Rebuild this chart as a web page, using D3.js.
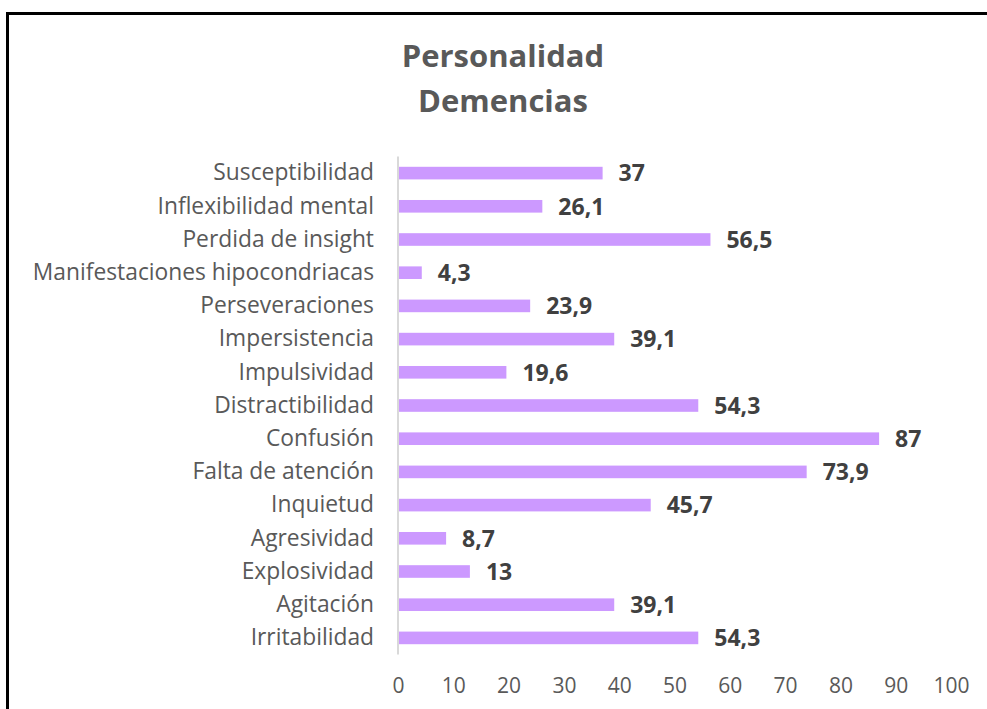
<!DOCTYPE html>
<html lang="es">
<head>
<meta charset="UTF-8">
<title>Personalidad Demencias</title>
<style>
    body { margin: 0; background: #fff; }
    #SVG { display: block; }
</style>
</head>
<body>
<svg id="SVG"></svg>
<script src="https://d3js.org/d3.v7.min.js"></script>
<script>
    // categorias de arriba hacia abajo
    var categories = ["Susceptibilidad", "Inflexibilidad mental", "Perdida de insight",
        "Manifestaciones hipocondriacas", "Perseveraciones", "Impersistencia", "Impulsividad",
        "Distractibilidad", "Confusión", "Falta de atención", "Inquietud", "Agresividad",
        "Explosividad", "Agitación", "Irritabilidad"];
    var values = [37, 26.1, 56.5, 4.3, 23.9, 39.1, 19.6, 54.3, 87, 73.9, 45.7, 8.7, 13, 39.1, 54.3];
    var valueLabels = ["37", "26,1", "56,5", "4,3", "23,9", "39,1", "19,6", "54,3", "87", "73,9", "45,7", "8,7", "13", "39,1", "54,3"];
    var xTicks = [0, 10, 20, 30, 40, 50, 60, 70, 80, 90, 100];
    var titleLines = ["Personalidad", "Demencias"];

    var width = 987, height = 709;
    var font = "'Open Sans', 'Noto Sans', sans-serif";

    var svg = d3.select("#SVG").attr("width", width).attr("height", height);

    // marco negro (recortado a la derecha y abajo)
    svg.append("rect")
        .attr("x", 7.5).attr("y", 13.5)
        .attr("width", 1100).attr("height", 900)
        .attr("fill", "white")
        .attr("stroke", "black")
        .attr("stroke-width", 3);

    // titulo
    svg.selectAll(".title")
        .data(titleLines)
        .enter()
        .append("text")
        .attr("class", "title")
        .attr("x", 503)
        .attr("y", (d, i) => 67 + i * 45)
        .attr("text-anchor", "middle")
        .style("font-family", font)
        .style("font-size", "31px")
        .style("font-weight", "bold")
        .style("fill", "#595959")
        .text(d => d);

    var x = d3.scaleLinear().domain([0, 100]).range([398, 951]);
    var y = d3.scaleBand().domain(categories).range([156.5, 654.5]).paddingInner(0.62).paddingOuter(0.31);

    // eje x: solo etiquetas
    var axisX = d3.axisBottom(x).tickValues(xTicks).tickSize(0).tickPadding(0);
    var gx = svg.append("g").attr("transform", "translate(0,678)").call(axisX);
    gx.select(".domain").remove();
    gx.selectAll("text")
        .style("font-family", font)
        .style("font-size", "21px")
        .style("fill", "#595959");

    // eje y
    var axisY = d3.axisLeft(y).tickSize(0).tickPadding(24);
    var gy = svg.append("g").attr("transform", "translate(398,0)").call(axisY);
    gy.select(".domain").attr("stroke", "#d9d9d9").attr("stroke-width", 2)
        .attr("d", "M0,156.5V654.5");
    gy.selectAll("text")
        .style("font-family", font)
        .style("font-size", "22.8px")
        .style("fill", "#595959");

    // barras
    svg.append("g")
        .selectAll("rect")
        .data(values)
        .enter()
        .append("rect")
        .attr("x", x(0) + 1)
        .attr("y", (d, i) => y(categories[i]))
        .attr("width", d => x(d) - x(0) - 1)
        .attr("height", y.bandwidth())
        .attr("fill", "#cc99ff");

    // etiquetas de valor
    svg.append("g")
        .selectAll("text")
        .data(values)
        .enter()
        .append("text")
        .attr("x", d => x(d) + 16)
        .attr("y", (d, i) => y(categories[i]) + y.bandwidth() / 2)
        .attr("dy", "0.36em")
        .style("font-family", font)
        .style("font-size", "23px")
        .style("font-weight", "bold")
        .style("fill", "#404040")
        .text((d, i) => valueLabels[i]);
</script>
</body>
</html>
